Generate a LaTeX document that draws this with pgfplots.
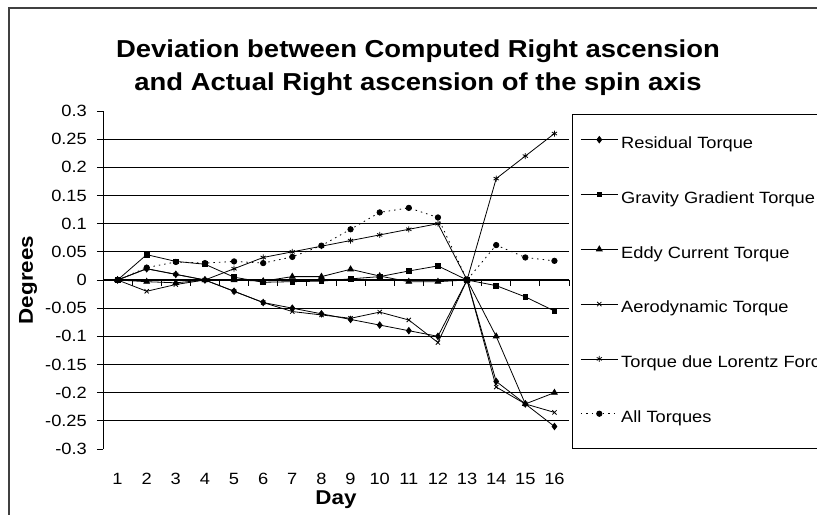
\documentclass[border=0pt]{standalone}
\usepackage{pgfplots}
\pgfplotsset{compat=1.18}
\usepackage{fontspec}
\setmainfont{Liberation Sans}[FakeStretch=1.12]
\begin{document}
\begin{tikzpicture}
\useasboundingbox (0bp,0bp) rectangle (817bp,515bp);
\draw[line width=1.2bp, black!75] (9bp,-20bp) -- (9bp,507bp) -- (860bp,507bp);
\node[anchor=base, inner sep=0pt, font=\fontsize{24.5bp}{28bp}\selectfont\bfseries] at (418bp,457bp) {Deviation between Computed Right ascension};
\node[anchor=base, inner sep=0pt, font=\fontsize{24.5bp}{28bp}\selectfont\bfseries] at (418bp,424bp) {and Actual Right ascension of the spin axis};
\node[rotate=90, inner sep=0pt, font=\fontsize{20bp}{24bp}\selectfont\bfseries] at (28bp,235bp) {Degrees};
\node[anchor=base, inner sep=0pt, font=\fontsize{20bp}{24bp}\selectfont\bfseries] at (336bp,11bp) {Day};
\begin{axis}[
  at={(103bp,66bp)}, anchor=south west,
  scale only axis, width=466bp, height=338bp,
  xmin=0.5, xmax=16.5, ymin=-0.3, ymax=0.3,
  axis lines*=left,
  x axis line style={draw=none},
  y axis line style={black, line width=1bp},
  xtick={1,...,16},
  xtick style={draw=none},
  xticklabel style={yshift=-15bp},
  ytick={-0.25,-0.2,-0.15,-0.1,-0.05,0,0.05,0.1,0.15,0.2,0.25},
  yticklabels={-0.25,-0.2,-0.15,-0.1,-0.05,0,0.05,0.1,0.15,0.2,0.25},
  extra y ticks={-0.3,0.3},
  extra y tick labels={-0.3,0.3},
  extra tick style={grid=none},
  ymajorgrids,
  grid style={black, line width=1bp},
  tick align=outside,
  major tick length=6bp,
  ytick style={black, line width=0.8bp},
  yticklabel style={inner sep=0pt, anchor=east, xshift=-10bp},
  tick label style={font=\fontsize{16.3bp}{18bp}\selectfont},
  /pgf/number format/assume math mode=true,
  clip=false,
  every axis plot/.append style={black, line width=0.8bp, mark options={solid}},
  legend cell align=left,
  legend style={at={(1.00644,0.99112)}, anchor=north west, draw=black, line width=0.8bp,
    fill=white, inner xsep=8bp, inner ysep=22bp, row sep=39.3bp, column sep=3bp,
    font=\fontsize{16.3bp}{18bp}\selectfont,
    nodes={inner sep=0pt, text height=12bp, text depth=3.5bp}},
  legend image code/.code={\draw[mark repeat=2,mark phase=2,#1] plot coordinates {(0bp,4.5bp)(18.5bp,4.5bp)(37bp,4.5bp)};},
]
\draw[line width=2bp] (axis cs:0.5,0) -- (axis cs:16.5,0);
\pgfplotsinvokeforeach{1.5,2.5,...,16.5}{\draw[line width=0.8bp] (axis cs:#1,0) -- ++(0bp,-6bp);}
\addplot[mark=diamond*, mark size=3.2bp] coordinates {(1,0)(2,0.02)(3,0.01)(4,0)(5,-0.02)(6,-0.04)(7,-0.05)(8,-0.06)(9,-0.07)(10,-0.08)(11,-0.09)(12,-0.1)(13,0)(14,-0.18)(15,-0.22)(16,-0.26)};
\addlegendentry{Residual Torque}
\addplot[mark=square*, mark size=2.4bp] coordinates {(1,0)(2,0.045)(3,0.033)(4,0.028)(5,0.005)(6,-0.004)(7,-0.003)(8,-0.002)(9,0.002)(10,0.006)(11,0.016)(12,0.025)(13,0)(14,-0.01)(15,-0.03)(16,-0.055)};
\addlegendentry{Gravity Gradient Torque}
\addplot[mark=triangle*, mark size=3.3bp] coordinates {(1,0)(2,-0.003)(3,-0.005)(4,0)(5,0)(6,-0.002)(7,0.006)(8,0.006)(9,0.019)(10,0.007)(11,-0.003)(12,-0.003)(13,0)(14,-0.1)(15,-0.22)(16,-0.2)};
\addlegendentry{Eddy Current Torque}
\addplot[mark=x, mark size=3bp] coordinates {(1,0)(2,-0.02)(3,-0.008)(4,0)(5,-0.02)(6,-0.04)(7,-0.056)(8,-0.062)(9,-0.068)(10,-0.057)(11,-0.071)(12,-0.111)(13,0)(14,-0.19)(15,-0.22)(16,-0.235)};
\addlegendentry{Aerodynamic Torque}
\addplot[mark=asterisk, mark size=3bp] coordinates {(1,0)(2,0.02)(3,0.01)(4,0)(5,0.02)(6,0.04)(7,0.05)(8,0.06)(9,0.07)(10,0.08)(11,0.09)(12,0.1)(13,0)(14,0.18)(15,0.22)(16,0.26)};
\addlegendentry{Torque due Lorentz Force}
\addplot[mark=*, mark size=2.7bp, dash pattern=on 1.5bp off 4bp] coordinates {(1,0)(2,0.022)(3,0.032)(4,0.03)(5,0.033)(6,0.03)(7,0.041)(8,0.061)(9,0.09)(10,0.12)(11,0.128)(12,0.111)(13,0)(14,0.062)(15,0.04)(16,0.034)};
\addlegendentry{All Torques}
\end{axis}
\end{tikzpicture}
\end{document}
